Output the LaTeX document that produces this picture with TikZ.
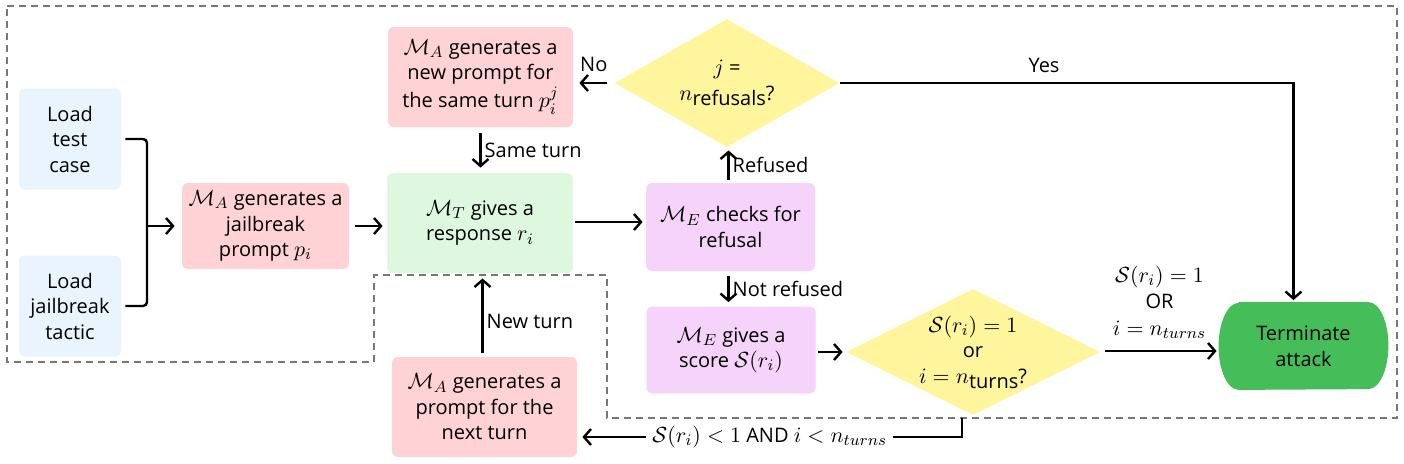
\documentclass[tikz,border=0pt]{standalone}
\usepackage{fontspec}
\setmainfont{Open Sans}
\usepackage{amsmath}
\DeclareMathSizes{10}{11}{8}{6}
\usetikzlibrary{arrows.meta,shapes.geometric,backgrounds,calc}
\definecolor{cblue}{HTML}{EAF4FE}
\definecolor{cpink}{HTML}{FFD3D5}
\definecolor{cgreen}{HTML}{DDF8DF}
\definecolor{cpurple}{HTML}{F5D3FA}
\definecolor{cyellow}{HTML}{FFF59D}
\definecolor{cterm}{HTML}{45BE5A}
\definecolor{cdash}{HTML}{777777}
\begin{document}
\begin{tikzpicture}[x=0.5pt,y=-0.5pt,
  txt/.style={font=\fontsize{10}{12.75}\selectfont, align=center},
  box/.style={txt, rounded corners=3pt, inner sep=0pt},
  bluebox/.style={box, fill=cblue, minimum width=51pt, minimum height=50.5pt},
  pinkbox/.style={box, fill=cpink, minimum width=92.5pt, minimum height=50pt},
  greenbox/.style={box, fill=cgreen, minimum width=93pt, minimum height=50pt},
  purplebox/.style={box, fill=cpurple, minimum width=84.5pt, minimum height=44pt},
  dia/.style={diamond, fill=cyellow, inner sep=0pt},
  conn/.style={line width=1.2pt, black},
  arr/.style={conn, -{Straight Barb[length=3.5pt,width=8pt]}},
  lbl/.style={txt, inner sep=1.5pt},
  frame/.style={cdash, line width=0.75pt, dash pattern=on 3.5pt off 2.5pt}
]
\useasboundingbox (0,0) rectangle (1404,463);

% dashed frame
\draw[frame] (7,6) -- (1397,6) -- (1397,418) -- (607,418) -- (607,275)
  -- (374,275) -- (374,362) -- (7,362) -- cycle;

% nodes
\node[bluebox] (tc) at (70,139) {Load\\test\\case};
\node[bluebox] (jt) at (70,306) {Load\\jailbreak\\tactic};
\node[pinkbox, minimum width=83.5pt, minimum height=43pt] (jp) at (265.5,226)
  {$\mathcal{M}_A$ generates a\\jailbreak\\prompt $p_i$};
\node[greenbox] (resp) at (480,223) {$\mathcal{M}_T$ gives a\\response $r_i$};
\node[purplebox] (chk) at (730.5,227) {$\mathcal{M}_E$ checks for\\refusal};
\node[pinkbox] (np) at (480.5,77)
  {$\mathcal{M}_A$ generates a\\new prompt for\\the same turn $p_i^j$};
\node[dia, minimum width=112.5pt, minimum height=64pt,
  label={[txt]center:{$j$ =\\$n$\raisebox{-0.45ex}{refusals}?}}] (dj) at (727,83) {};
\node[purplebox, minimum height=43.5pt] (sc) at (731,350)
  {$\mathcal{M}_E$ gives a\\score $\mathcal{S}(r_i)$};
\node[dia, minimum width=127pt, minimum height=63pt,
  label={[txt]center:{$\mathcal{S}(r_i) = 1$\\or\\$i = n$\raisebox{-0.45ex}{turns}?}}] (ds) at (973,352) {};
\node[txt, minimum width=84.5pt, minimum height=43.5pt, inner sep=0pt] (term) at (1303.5,346) {Terminate\\attack};
\node[pinkbox] (nt) at (484.5,407) {$\mathcal{M}_A$ generates a\\prompt for the\\next turn};

\begin{scope}[on background layer]
\fill[cterm] ([xshift=10pt]term.north west) -- ([xshift=-10pt]term.north east)
  arc[start angle=90, end angle=-90, x radius=10pt, y radius=21.75pt]
  -- ([xshift=10pt]term.south west)
  arc[start angle=270, end angle=90, x radius=10pt, y radius=21.75pt] -- cycle;
\end{scope}

% connectors
\coordinate (bj) at (147,226);
\draw[conn, rounded corners=2pt] ([xshift=2pt]tc.east) -| (bj) |- ([xshift=2pt]jt.east);
\draw[arr, shorten >=3.5pt] (bj) -- (bj -| jp.west);
\draw[arr, shorten <=3pt, shorten >=2pt] (jp.east) -- (jp.east -| resp.west);
\draw[arr, shorten <=1pt, shorten >=1.5pt] ([yshift=0.5pt]resp.east) -- ([yshift=0.5pt]resp.east -| chk.west);
\draw[arr, shorten <=1.5pt, shorten >=1.5pt] ([xshift=-1pt]chk.north) -- ([xshift=-1pt]chk.north |- dj.south)
  node[lbl, midway, right] {Refused};
\draw[arr, shorten <=3.5pt, shorten >=3pt] (dj.west) -- (dj.west -| np.east)
  node[lbl, midway, above=3.5pt] {No};
\draw[arr, shorten <=3pt, shorten >=2.5pt] (np.south) -- (np.south |- resp.north)
  node[lbl, midway, right] {Same turn};
\draw[arr, shorten >=1pt] (dj.east) -| ([xshift=-5pt]term.north)
  node[lbl, pos=0.225, above=3pt] {Yes};
\draw[arr, shorten <=2.5pt, shorten >=2pt] ([xshift=-1pt]chk.south) -- ([xshift=-1pt]chk.south |- sc.north)
  node[lbl, midway, right] {Not refused};
\draw[arr, shorten <=1pt, shorten >=1.5pt] ([yshift=-1pt]sc.east) -- ([yshift=-1pt]sc.east -| ds.west);
\draw[arr, shorten <=2.5pt, shorten >=1pt] ([yshift=0.5pt]ds.east) -- ([yshift=0.5pt]ds.east -| term.west)
  node[lbl, midway, yshift=24.5pt, font=\fontsize{10}{13.25}\selectfont]
  {$\mathcal{S}(r_i) = 1$\\OR\\$i = n_{turns}$};
\draw[arr, shorten >=2.5pt] ([xshift=-5.5pt,yshift=-1.5pt]ds.south) |- ([yshift=-15pt]nt.east)
  node[lbl, pos=0.75, fill=white, inner sep=3pt] {$\mathcal{S}(r_i) < 1$ AND $i < n_{turns}$};
\draw[arr, shorten <=2pt, shorten >=2.5pt] ([xshift=-1pt]nt.north) -- ([xshift=-1pt]nt.north |- resp.south)
  node[lbl, pos=0.42, right] {New turn};
\end{tikzpicture}
\end{document}
